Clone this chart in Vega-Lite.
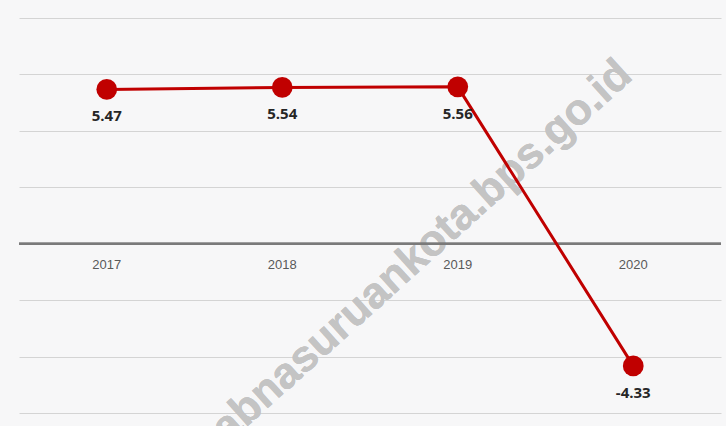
{
  "$schema": "https://vega.github.io/schema/vega-lite/v6.json",
  "width": 702,
  "height": 395,
  "autosize": "none",
  "padding": {"left": 19, "top": 18, "right": 5, "bottom": 13},
  "background": "#f7f7f8",
  "config": {"view": {"stroke": null}},
  "data": {
    "values": [
      {"year": "2017", "value": 5.47, "label": "5.47"},
      {"year": "2018", "value": 5.54, "label": "5.54"},
      {"year": "2019", "value": 5.56, "label": "5.56"},
      {"year": "2020", "value": -4.33, "label": "-4.33"}
    ]
  },
  "encoding": {
    "x": {"field": "year", "type": "ordinal", "scale": {"type": "point", "padding": 0.5}, "axis": null},
    "y": {"field": "value", "type": "quantitative", "scale": {"domain": [-6, 8], "nice": false},
      "axis": {"title": null, "labels": false, "ticks": false, "domain": false, "grid": true, "gridColor": "#d4d4d4", "gridWidth": 1, "values": [-6, -4, -2, 2, 4, 6, 8]}}
  },
  "layer": [
    {
      "mark": {"type": "text", "text": "kabnasuruankota.bps.go.id", "angle": -42, "font": "Liberation Sans", "fontWeight": "bold", "fontSize": 44, "color": "#c4c4c4", "opacity": 0.75, "dx": -44, "dy": -18, "align": "center", "baseline": "middle"},
      "encoding": {"x": {"datum": "2019"}, "y": {"datum": 0}}
    },
    {
      "mark": {"type": "rule", "color": "#7a7a7a", "strokeWidth": 2},
      "encoding": {"y": {"datum": 0}, "x": null}
    },
    {
      "mark": {"type": "text", "font": "Liberation Sans", "fontSize": 13, "color": "#595959", "dy": 21, "baseline": "middle"},
      "encoding": {"y": {"datum": 0}, "text": {"field": "year"}}
    },
    {
      "mark": {"type": "line", "color": "#c00000", "strokeWidth": 3}
    },
    {
      "mark": {"type": "point", "filled": true, "shape": "circle", "size": 430, "color": "#c00000", "opacity": 1}
    },
    {
      "mark": {"type": "text", "font": "Open Sans", "fontWeight": "bold", "fontSize": 15, "color": "#262626", "dy": 27, "baseline": "middle"},
      "encoding": {"text": {"field": "label"}}
    }
  ]
}
